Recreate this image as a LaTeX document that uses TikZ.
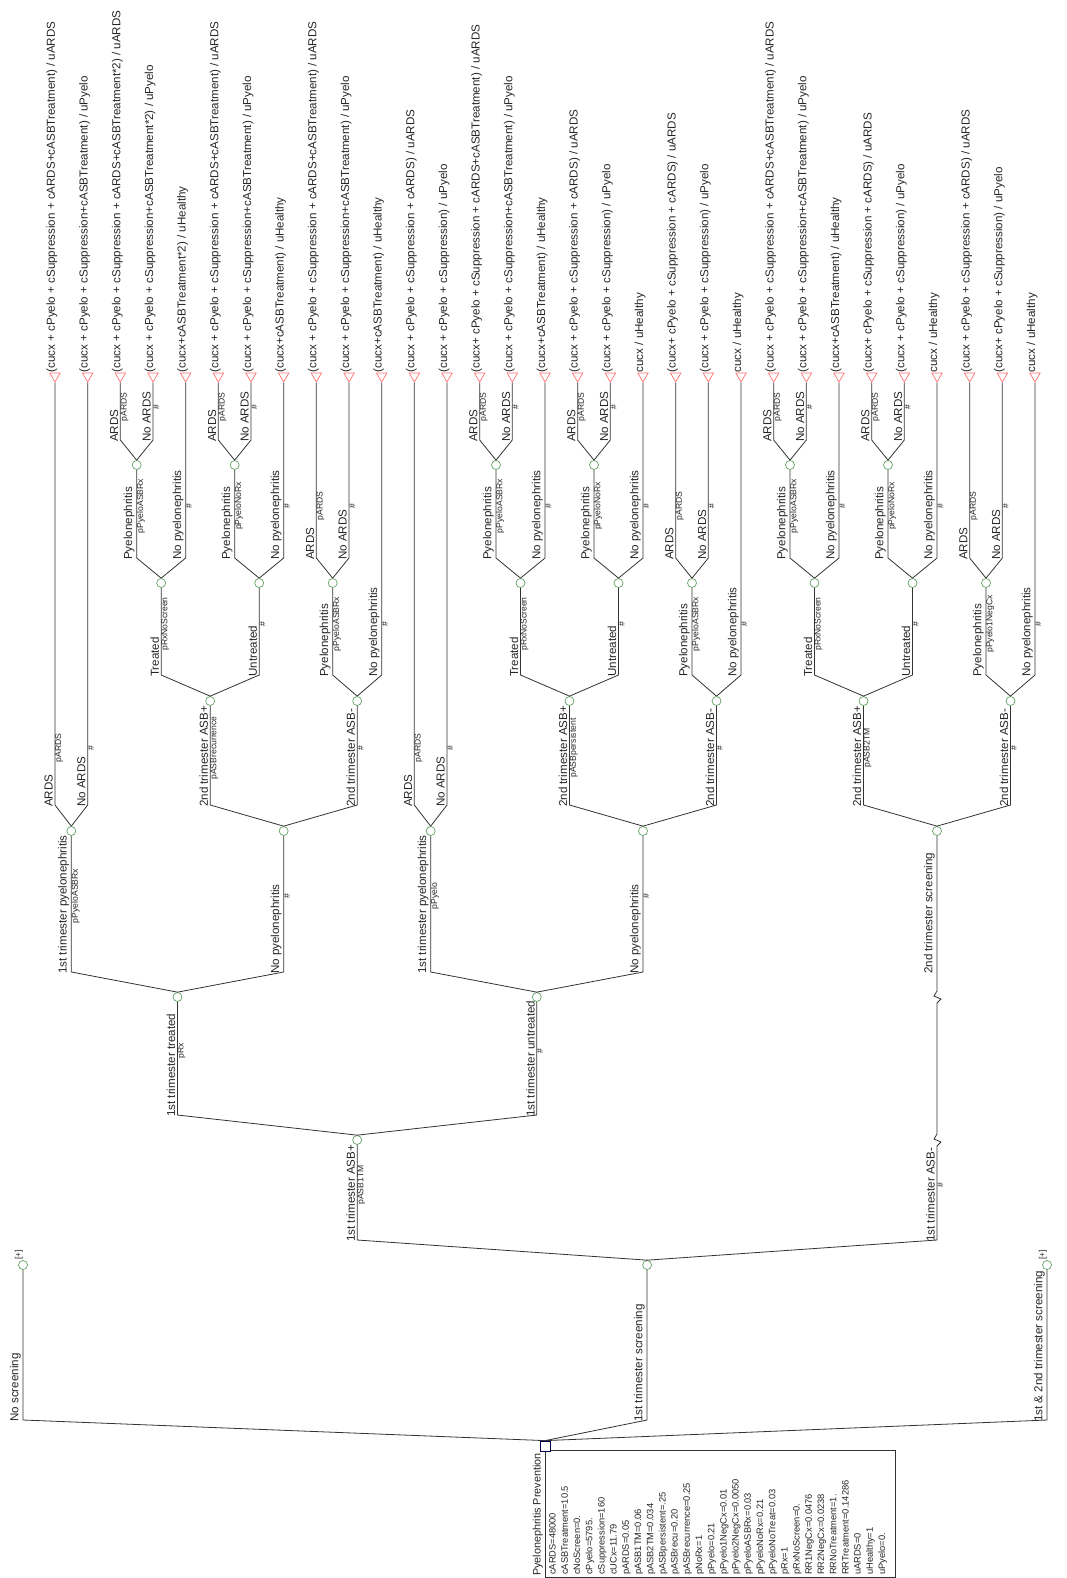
\documentclass[tikz,border=0pt]{standalone}
\usepackage{fontspec}
\setmainfont{Liberation Sans}
\usetikzlibrary{shapes.geometric}
\newcommand{\bfnt}{\fontsize{11.6}{13}\selectfont}
\newcommand{\pfnt}{\fontsize{8.6}{10}\selectfont}
\newcommand{\vfnt}{\fontsize{9.3}{12.2}\selectfont}
% one branch: parent, child, corner y, name, probability, y of probability
\newcommand{\br}[6]{%
  \draw[branch] (#1.north) -- (#2 |- 0,#3) -- (#2.south);
  \node[blabel] (#2-lab) at (#2 |- 0,#3) {#4};
  \node[plabel] (#2-p) at (#2 |- 0,#6) {#5};
}
% terminal node with its payoff text
\newcommand{\tm}[3]{%
  \node[term] (#1) at (#2,376) {};
  \node[tlabel] (#1-t) at (#1.north) {#3};
}

\begin{document}
\begin{tikzpicture}[x=1pt, y=-1pt,
    branch/.style={line width=0.8pt, draw=black!80},
    chance/.style={circle, draw=green!40!black!60, fill=white, minimum size=9pt, inner sep=0pt, line width=0.7pt},
    decision/.style={rectangle, draw=blue!35!black, fill=white, minimum size=10pt, inner sep=0pt, line width=0.8pt},
    term/.style={regular polygon, regular polygon sides=3, shape border rotate=180, draw=red!55!white, fill=white, minimum size=12pt, inner sep=0pt, line width=0.7pt},
    tlabel/.style={rotate=90, anchor=west, inner sep=0pt, yshift=3pt, font=\bfnt, text=black!85},
    blabel/.style={rotate=90, anchor=south west, inner sep=0pt, xshift=-2pt, yshift=2pt, font=\bfnt, text=black!85},
    plabel/.style={rotate=90, anchor=north, inner sep=0pt, xshift=5pt, font=\pfnt, text=black!85},
    plus/.style={rotate=90, anchor=west, inner sep=0pt, yshift=4pt, font=\pfnt, text=black!85},
]
    \useasboundingbox (0,0) rectangle (1066,1578);
    \fill[white] (0,0) rectangle (1066,1578);

    % decision node and variables
    \node[draw=black!80, line width=0.8pt, minimum width=350pt, minimum height=127pt, anchor=north west, inner sep=0pt] (vbox) at (545,1450) {};
    \node[decision] (root) at (545,1446) {};
    \node[rotate=90, anchor=south west, inner sep=0pt, font=\fontsize{10.8}{12}\selectfont, text=black!85] (title) at (543,1576) {Pyelonephritis Prevention};
    \node[rotate=90, anchor=north west, inner sep=0pt, align=left, font=\vfnt, text=black!85] (vars) at (549,1575) {cARDS=48000\\cASBTreatment=10.5\\cNoScreen=0.\\cPyelo=5795.\\cSuppression=160\\cUCx=11.79\\pARDS=0.05\\pASB1TM=0.06\\pASB2TM=0.034\\pASBpersistent=.25\\pASBrecu=0.20\\pASBrecurrence=0.25\\pNoRx=1\\pPyelo=0.21\\pPyelo1NegCx=0.01\\pPyelo2NegCx=0.0050\\pPyeloASBRx=0.03\\pPyeloNoRx=0.21\\pPyeloNoTreat=0.03\\pRx=1\\pRxNoScreen=0.\\RR1NegCx=0.0476\\RR2NegCx=0.0238\\RRNoTreatment=1.\\RRTreatment=0.14286\\uARDS=0\\uHealthy=1\\uPyelo=0.};

    % chance nodes
    \node[chance] (N0) at (23,1265) {};
    \node[chance] (A) at (647.08,1265) {};
    \node[chance] (N3) at (1047,1265) {};
    \node[chance] (B) at (357.17,1140) {};
    \node[chance] (C) at (177.5,997) {};
    \node[chance] (D) at (536.83,997) {};
    \node[chance] (P1) at (71.33,831) {};
    \node[chance] (N1) at (283.67,831) {};
    \node[chance] (P2) at (430.67,831) {};
    \node[chance] (N2) at (643,831) {};
    \node[chance] (E) at (937,831) {};
    \node[chance] (Q1) at (210.17,701) {};
    \node[chance] (Q2) at (357.17,701) {};
    \node[chance] (Q3) at (569.5,701) {};
    \node[chance] (Q4) at (716.5,701) {};
    \node[chance] (Q5) at (863.5,701) {};
    \node[chance] (Q6) at (1010.5,701) {};
    \node[chance] (R1) at (161.17,583) {};
    \node[chance] (R2) at (259.17,583) {};
    \node[chance] (S3) at (332.67,583) {};
    \node[chance] (R3) at (520.5,583) {};
    \node[chance] (R4) at (618.5,583) {};
    \node[chance] (S6) at (692,583) {};
    \node[chance] (R5) at (814.5,583) {};
    \node[chance] (R6) at (912.5,583) {};
    \node[chance] (S9) at (986,583) {};
    \node[chance] (S1) at (136.67,465) {};
    \node[chance] (S2) at (234.67,465) {};
    \node[chance] (S4) at (496,465) {};
    \node[chance] (S5) at (594,465) {};
    \node[chance] (S7) at (790,465) {};
    \node[chance] (S8) at (888,465) {};

    % terminal nodes
    \tm{T1}{55}{(cucx + cPyelo + cSuppression + cARDS+cASBTreatment) / uARDS}
    \tm{T2}{87.67}{(cucx + cPyelo + cSuppression+cASBTreatment) / uPyelo}
    \tm{T3}{120.33}{(cucx + cPyelo + cSuppression + cARDS+cASBTreatment*2) / uARDS}
    \tm{T4}{153}{(cucx + cPyelo + cSuppression+cASBTreatment*2) / uPyelo}
    \tm{T5}{185.67}{(cucx+cASBTreatment*2) / uHealthy}
    \tm{T6}{218.33}{(cucx + cPyelo + cSuppression + cARDS+cASBTreatment) / uARDS}
    \tm{T7}{251}{(cucx + cPyelo + cSuppression+cASBTreatment) / uPyelo}
    \tm{T8}{283.67}{(cucx+cASBTreatment) / uHealthy}
    \tm{T9}{316.33}{(cucx + cPyelo + cSuppression + cARDS+cASBTreatment) / uARDS}
    \tm{T10}{349}{(cucx + cPyelo + cSuppression+cASBTreatment) / uPyelo}
    \tm{T11}{381.67}{(cucx+cASBTreatment) / uHealthy}
    \tm{T12}{414.33}{(cucx + cPyelo + cSuppression + cARDS) / uARDS}
    \tm{T13}{447}{(cucx + cPyelo + cSuppression) / uPyelo}
    \tm{T14}{479.67}{(cucx+ cPyelo + cSuppression + cARDS+cASBTreatment) / uARDS}
    \tm{T15}{512.33}{(cucx + cPyelo + cSuppression+cASBTreatment) / uPyelo}
    \tm{T16}{545}{(cucx+cASBTreatment) / uHealthy}
    \tm{T17}{577.67}{(cucx + cPyelo + cSuppression + cARDS) / uARDS}
    \tm{T18}{610.33}{(cucx + cPyelo + cSuppression) / uPyelo}
    \tm{T19}{643}{cucx / uHealthy}
    \tm{T20}{675.67}{(cucx+ cPyelo + cSuppression + cARDS) / uARDS}
    \tm{T21}{708.33}{(cucx + cPyelo + cSuppression) / uPyelo}
    \tm{T22}{741}{cucx / uHealthy}
    \tm{T23}{773.67}{(cucx + cPyelo + cSuppression + cARDS+cASBTreatment) / uARDS}
    \tm{T24}{806.33}{(cucx + cPyelo + cSuppression+cASBTreatment) / uPyelo}
    \tm{T25}{839}{(cucx+cASBTreatment) / uHealthy}
    \tm{T26}{871.67}{(cucx+ cPyelo + cSuppression + cARDS) / uARDS}
    \tm{T27}{904.33}{(cucx + cPyelo + cSuppression) / uPyelo}
    \tm{T28}{937}{cucx / uHealthy}
    \tm{T29}{969.67}{(cucx + cPyelo + cSuppression + cARDS) / uARDS}
    \tm{T30}{1002.33}{(cucx+ cPyelo + cSuppression) / uPyelo}
    \tm{T31}{1035}{cucx / uHealthy}

    % strategies
    \draw[branch] (root.north) -- (N0 |- 0,1420) -- (N0.south);
    \node[blabel] (N0-lab) at (N0 |- 0,1420) {No screening};
    \node[plus] (N0-c) at (N0.north) {[+]};
    \draw[branch] (root.north) -- (A |- 0,1420) -- (A.south);
    \node[blabel] (A-lab) at (A |- 0,1420) {1st trimester screening};
    \draw[branch] (root.north) -- (N3 |- 0,1420) -- (N3.south);
    \node[blabel] (N3-lab) at (N3 |- 0,1420) {1st \& 2nd trimester screening};
    \node[plus] (N3-c) at (N3.north) {[+]};

    % 1st trimester screening
    \br{A}{B}{1240}{1st trimester ASB+}{pASB1TM}{1190}
    \draw[branch] (A.north) -- (E |- 0,1240) -- (E |- 0,1146) -- ++(4,-4) -- ++(-7,-3) -- (E |- 0,1134)
        -- (E |- 0,1003) -- ++(4,-4) -- ++(-7,-3) -- (E |- 0,991) -- (E.south);
    \node[blabel] (E-lab1) at (E |- 0,1240) {1st trimester ASB-};
    \node[plabel] (E-p) at (E |- 0,1190) {\#};
    \node[blabel] (E-lab2) at (E |- 0,972) {2nd trimester screening};

    \br{B}{C}{1115}{1st trimester treated}{pRx}{1056}
    \br{B}{D}{1115}{1st trimester untreated}{\#}{1056}

    \br{C}{P1}{972}{1st trimester pyelonephritis}{pPyeloASBRx}{901}
    \br{C}{N1}{972}{No pyelonephritis}{\#}{901}
    \br{P1}{T1}{805}{ARDS}{pARDS}{753}
    \br{P1}{T2}{805}{No ARDS}{\#}{753}
    \br{N1}{Q1}{805}{2nd trimester ASB+}{pASBrecurrence}{753}
    \br{N1}{Q2}{805}{2nd trimester ASB-}{\#}{753}
    \br{Q1}{R1}{675}{Treated}{pRxNoScreen}{629}
    \br{Q1}{R2}{675}{Untreated}{\#}{629}
    \br{R1}{S1}{558}{Pyelonephritis}{pPyeloASBRx}{511}
    \br{R1}{T5}{558}{No pyelonephritis}{\#}{511}
    \br{S1}{T3}{440}{ARDS}{pARDS}{412}
    \br{S1}{T4}{440}{No ARDS}{\#}{412}
    \br{R2}{S2}{558}{Pyelonephritis}{pPyeloNoRx}{511}
    \br{R2}{T8}{558}{No pyelonephritis}{\#}{511}
    \br{S2}{T6}{440}{ARDS}{pARDS}{412}
    \br{S2}{T7}{440}{No ARDS}{\#}{412}
    \br{Q2}{S3}{675}{Pyelonephritis}{pPyeloASBRx}{629}
    \br{Q2}{T11}{675}{No pyelonephritis}{\#}{629}
    \br{S3}{T9}{558}{ARDS}{pARDS}{511}
    \br{S3}{T10}{558}{No ARDS}{\#}{511}

    \br{D}{P2}{972}{1st trimester pyelonephritis}{pPyelo}{901}
    \br{D}{N2}{972}{No pyelonephritis}{\#}{901}
    \br{P2}{T12}{805}{ARDS}{pARDS}{753}
    \br{P2}{T13}{805}{No ARDS}{\#}{753}
    \br{N2}{Q3}{805}{2nd trimester ASB+}{pASBpersistent}{753}
    \br{N2}{Q4}{805}{2nd trimester ASB-}{\#}{753}
    \br{Q3}{R3}{675}{Treated}{pRxNoScreen}{629}
    \br{Q3}{R4}{675}{Untreated}{\#}{629}
    \br{R3}{S4}{558}{Pyelonephritis}{pPyeloASBRx}{511}
    \br{R3}{T16}{558}{No pyelonephritis}{\#}{511}
    \br{S4}{T14}{440}{ARDS}{pARDS}{412}
    \br{S4}{T15}{440}{No ARDS}{\#}{412}
    \br{R4}{S5}{558}{Pyelonephritis}{pPyeloNoRx}{511}
    \br{R4}{T19}{558}{No pyelonephritis}{\#}{511}
    \br{S5}{T17}{440}{ARDS}{pARDS}{412}
    \br{S5}{T18}{440}{No ARDS}{\#}{412}
    \br{Q4}{S6}{675}{Pyelonephritis}{pPyeloASBRx}{629}
    \br{Q4}{T22}{675}{No pyelonephritis}{\#}{629}
    \br{S6}{T20}{558}{ARDS}{pARDS}{511}
    \br{S6}{T21}{558}{No ARDS}{\#}{511}

    % 2nd trimester screening
    \br{E}{Q5}{805}{2nd trimester ASB+}{pASB2TM}{753}
    \br{E}{Q6}{805}{2nd trimester ASB-}{\#}{753}
    \br{Q5}{R5}{675}{Treated}{pRxNoScreen}{629}
    \br{Q5}{R6}{675}{Untreated}{\#}{629}
    \br{R5}{S7}{558}{Pyelonephritis}{pPyeloASBRx}{511}
    \br{R5}{T25}{558}{No pyelonephritis}{\#}{511}
    \br{S7}{T23}{440}{ARDS}{pARDS}{412}
    \br{S7}{T24}{440}{No ARDS}{\#}{412}
    \br{R6}{S8}{558}{Pyelonephritis}{pPyeloNoRx}{511}
    \br{R6}{T28}{558}{No pyelonephritis}{\#}{511}
    \br{S8}{T26}{440}{ARDS}{pARDS}{412}
    \br{S8}{T27}{440}{No ARDS}{\#}{412}
    \br{Q6}{S9}{675}{Pyelonephritis}{pPyelo1NegCx}{629}
    \br{Q6}{T31}{675}{No pyelonephritis}{\#}{629}
    \br{S9}{T29}{558}{ARDS}{pARDS}{511}
    \br{S9}{T30}{558}{No ARDS}{\#}{511}
\end{tikzpicture}
\end{document}
